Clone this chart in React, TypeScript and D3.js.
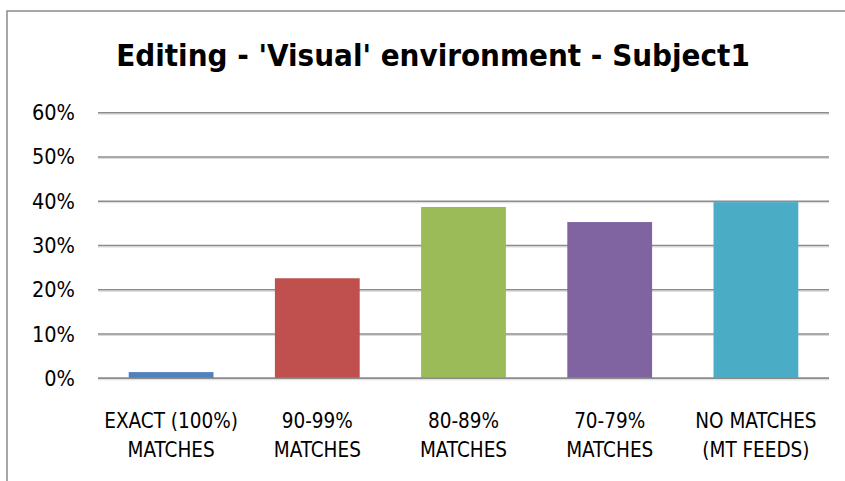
import React from "react";
import * as d3 from "d3";

const categories = [
  ["EXACT (100%)", "MATCHES"],
  ["90-99%", "MATCHES"],
  ["80-89%", "MATCHES"],
  ["70-79%", "MATCHES"],
  ["NO MATCHES", "(MT FEEDS)"],
];
const values = [0.014, 0.226, 0.387, 0.353, 0.398];
const colors = ["#4F81BD", "#C0504D", "#9BBB59", "#8064A2", "#4BACC6"];
const yTicks = [0, 0.1, 0.2, 0.3, 0.4, 0.5, 0.6];
const title = "Editing - 'Visual'  environment - Subject1";

const W = 845;
const H = 481;
const FONT = "'Liberation Sans Narrow', 'DejaVu Sans Condensed', 'Liberation Sans', sans-serif";

export default function App() {
  const x = d3
    .scaleBand<number>()
    .domain(d3.range(categories.length))
    .range([98, 829])
    .paddingInner(0.42)
    .paddingOuter(0.21);
  const y = d3.scaleLinear().domain([0, 0.6]).range([378.3, 112.7]);
  const fmt = d3.format(".0%");

  return (
    <svg
      width={W}
      height={H}
      style={{ position: "absolute", left: 0, top: 0, background: "#fff" }}
    >
      <rect x={7} y={11} width={W + 20} height={H + 20} fill="#fff" stroke="#8a8a8a" strokeWidth={1.5} />
      <text
        x={433}
        y={66}
        textAnchor="middle"
        fontFamily={FONT}
        fontWeight="bold"
        fontSize={31}
        fill="#000"
      >
        {title}
      </text>
      {yTicks.map((t) => (
        <g key={t}>
          <line x1={98} x2={829} y1={y(t) + 1.5} y2={y(t) + 1.5} stroke="#d9d9d9" strokeWidth={1} />
          <line x1={98} x2={829} y1={y(t)} y2={y(t)} stroke="#8c8c8c" strokeWidth={1.6} />
          <text
            x={75}
            y={y(t) + 7.5}
            textAnchor="end"
            fontFamily={FONT}
            fontSize={21.5}
            fill="#000"
          >
            {fmt(t)}
          </text>
        </g>
      ))}
      {values.map((v, i) => (
        <rect
          key={i}
          x={x(i)}
          y={y(v)}
          width={x.bandwidth()}
          height={y(0) - y(v)}
          fill={colors[i]}
        />
      ))}
      <line x1={98} x2={829} y1={y(0)} y2={y(0)} stroke="#8c8c8c" strokeWidth={1.6} />
      {categories.map((c, i) => (
        <text
          key={i}
          textAnchor="middle"
          fontFamily={FONT}
          fontSize={20.5}
          fill="#000"
        >
          {c.map((line, j) => (
            <tspan key={j} x={(x(i) as number) + x.bandwidth() / 2} y={428 + j * 29}>
              {line}
            </tspan>
          ))}
        </text>
      ))}
    </svg>
  );
}
